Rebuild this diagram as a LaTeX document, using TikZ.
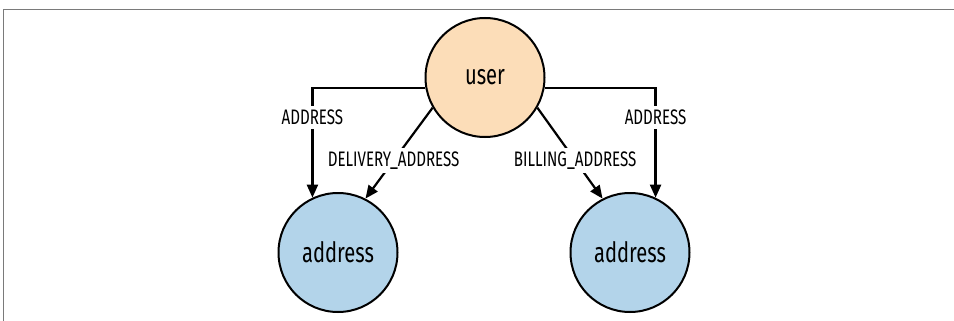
\documentclass[tikz,border=0pt]{standalone}
\usepackage{fontspec}
\setmainfont[FakeStretch=0.72]{Fira Sans}
\usepackage{tikz}
\usetikzlibrary{positioning, shapes.geometric, arrows.meta}
\usepackage{xcolor}

\definecolor{userfill}{HTML}{FCDDB8}
\definecolor{addrfill}{HTML}{B3D4EA}
\definecolor{framegray}{HTML}{7A7A7A}

\begin{document}
\begin{tikzpicture}[node distance=175pt]

\tikzstyle{entity} = [
    circle,
    draw,
    line width=2pt,
    minimum size=119pt,
    inner sep=0pt,
    font=\fontsize{28}{30}\selectfont
];
\tikzstyle{rel} = [
    draw,
    line width=2.2pt,
    -{Triangle[length=13pt, width=11pt]}
];
\tikzstyle{lbl} = [
    fill=white,
    inner sep=4pt,
    font=\fontsize{21}{23}\selectfont
];

\useasboundingbox (0,0) rectangle (954pt,-321pt);
\draw[framegray, line width=1.2pt] (3.5pt,-321pt) -- (3.5pt,-9.5pt) -- (954pt,-9.5pt);

\node[entity, fill=userfill] (user) at (485pt,-77.5pt) {user};
\node[entity, fill=addrfill, below of=user, xshift=-147pt] (addrL) {address};
\node[entity, fill=addrfill, below of=user, xshift=145pt] (addrR) {address};

\draw[rel] (user.190) -| node[lbl, pos=0.635] {ADDRESS} (addrL.115);
\draw[rel] (user.210) -- node[lbl, pos=0.58] {DELIVERY\_ADDRESS} (addrL.63);
\draw[rel] (user.330) -- node[lbl, pos=0.58] {BILLING\_ADDRESS} (addrR.117);
\draw[rel] (user.350) -| node[lbl, pos=0.635] {ADDRESS} (addrR.65);

\end{tikzpicture}
\end{document}
